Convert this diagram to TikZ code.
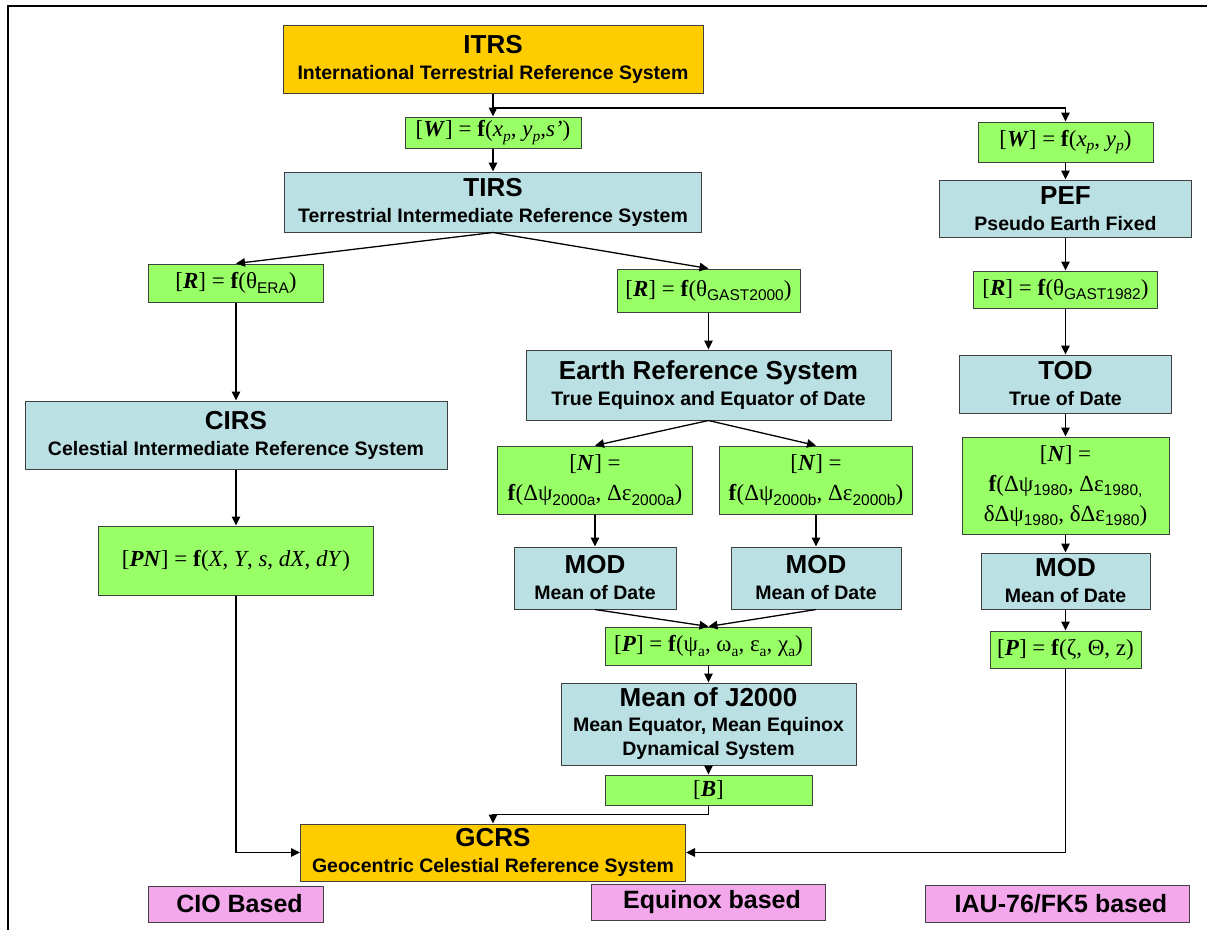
\documentclass[tikz,border=0pt]{standalone}
\usepackage{fontspec}
\setmainfont{Liberation Serif}
\setsansfont{Liberation Sans}
\usetikzlibrary{arrows.meta,calc}

\definecolor{itrsorange}{RGB}{255,204,0}
\definecolor{sysblue}{RGB}{187,224,227}
\definecolor{matgreen}{RGB}{153,255,102}
\definecolor{basepink}{RGB}{243,168,235}

\newcommand{\ttl}{\fontsize{26}{26}\selectfont}
\newcommand{\bv}[1]{\textbf{\textit{#1}}}
\newcommand{\fb}{\textbf{f}}
\newcommand{\ssub}[1]{\raisebox{-4.5pt}{\fontsize{15.5}{15.5}\selectfont\sffamily #1}}
\newcommand{\isub}[1]{\raisebox{-4.5pt}{\fontsize{15.5}{15.5}\selectfont\textit{#1}}}
\newcommand{\rsub}[1]{\raisebox{-4.5pt}{\fontsize{15.5}{15.5}\selectfont #1}}

\begin{document}
\begin{tikzpicture}[x=1pt,y=1pt]
    \tikzstyle{every node}=[rectangle,draw=black!75,line width=1,inner sep=0,align=center]
    \tikzstyle{sys}=[fill=sysblue,font=\sffamily\bfseries\fontsize{19.5}{26}\selectfont]
    \tikzstyle{itrs}=[sys,fill=itrsorange]
    \tikzstyle{mat}=[fill=matgreen,font=\fontsize{23}{30}\selectfont]
    \tikzstyle{tag}=[fill=basepink,font=\sffamily\bfseries\fontsize{25}{25}\selectfont]
    \tikzstyle{arr}=[draw=black,line width=1.3,-{Triangle[length=9pt,width=8.5pt]}]
    \useasboundingbox (0,0) rectangle (1207,-930);
    \draw[line width=2.2] (1207,-5.7) -- (7.8,-5.7) -- (7.8,-930);

    % top
    \node[itrs,minimum width=420,minimum height=68] (itrs) at (493,-59) {{\ttl ITRS}\\International Terrestrial Reference System};
    \node[mat,minimum width=176,minimum height=31] (w1) at (493,-132.5) {[\bv{W}] = \fb(\textit{x}\isub{p}, \textit{y}\isub{p},\textit{s’})};
    \node[sys,minimum width=417,minimum height=60] (tirs) at (493,-202) {{\ttl TIRS}\\Terrestrial Intermediate Reference System};

    % CIO branch
    \node[mat,minimum width=175,minimum height=38] (r1) at (236,-283) {[\bv{R}] = \fb(θ\ssub{ERA})};
    \node[sys,minimum width=422,minimum height=68] (cirs) at (236,-435) {{\ttl CIRS}\\Celestial Intermediate Reference System};
    \node[mat,minimum width=275,minimum height=69] (pn) at (236,-560.5) {[\bv{PN}] = \fb(\textit{X}, \textit{Y}, \textit{s}, \textit{dX}, \textit{dY})};

    % equinox branch
    \node[mat,minimum width=183,minimum height=43] (r2) at (708.5,-290.5) {[\bv{R}] = \fb(θ\ssub{GAST2000})};
    \node[sys,minimum width=365,minimum height=70] (ers) at (708.5,-385) {{\ttl Earth Reference System}\\True Equinox and Equator of Date};
    \node[mat,minimum width=195,minimum height=68] (n1) at (595,-480) {[\bv{N}] =\\\fb(Δψ\ssub{2000a}, Δε\ssub{2000a})};
    \node[mat,minimum width=193,minimum height=68] (n2) at (816,-480) {[\bv{N}] =\\\fb(Δψ\ssub{2000b}, Δε\ssub{2000b})};
    \node[sys,minimum width=162,minimum height=62] (mod1) at (595,-578) {{\ttl MOD}\\Mean of Date};
    \node[sys,minimum width=170,minimum height=62] (mod2) at (816,-578) {{\ttl MOD}\\Mean of Date};
    \node[mat,minimum width=206,minimum height=38] (p1) at (708.5,-646) {[\bv{P}] = \fb(ψ\rsub{a}, ω\rsub{a}, ε\rsub{a}, χ\rsub{a})};
    \node[sys,minimum width=295,minimum height=82,font=\sffamily\bfseries\fontsize{19.5}{24.5}\selectfont] (j2000) at (708.5,-724) {{\ttl Mean of J2000}\\Mean Equator, Mean Equinox\\Dynamical System};
    \node[mat,minimum width=207,minimum height=30] (b) at (708.5,-790) {[\bv{B}]};

    % IAU-76/FK5 branch
    \node[mat,minimum width=175,minimum height=40] (w2) at (1065.5,-142) {[\bv{W}] = \fb(\textit{x}\isub{p}, \textit{y}\isub{p})};
    \node[sys,minimum width=252,minimum height=57] (pef) at (1065.5,-208.5) {{\ttl PEF}\\Pseudo Earth Fixed};
    \node[mat,minimum width=184,minimum height=37] (r3) at (1065.5,-289.5) {[\bv{R}] = \fb(θ\ssub{GAST1982})};
    \node[sys,minimum width=212,minimum height=58] (tod) at (1065.5,-384) {{\ttl TOD}\\True of Date};
    \node[mat,minimum width=207,minimum height=97] (n3) at (1065.5,-485.5) {[\bv{N}] =\\\fb(Δψ\ssub{1980}, Δε\ssub{1980,}\\δΔψ\ssub{1980}, δΔε\ssub{1980})};
    \node[sys,minimum width=169,minimum height=56] (mod3) at (1065.5,-581) {{\ttl MOD}\\Mean of Date};
    \node[mat,minimum width=151,minimum height=37] (p2) at (1065.5,-649.5) {[\bv{P}] = \fb(ζ, Θ, z)};

    % bottom
    \node[itrs,minimum width=385,minimum height=57] (gcrs) at (493,-852.5) {{\ttl GCRS}\\Geocentric Celestial Reference System};
    \node[tag,minimum width=175,minimum height=36] (cio) at (235.5,-904) {\hspace{8pt}CIO Based};
    \node[tag,minimum width=234,minimum height=36] (equ) at (708,-902) {\hspace{8pt}Equinox based};
    \node[tag,minimum width=264,minimum height=37] (iau) at (1057,-903.5) {\hspace{8pt}IAU-76/FK5 based};

    % connectors
    \coordinate (fork) at (493,-108);
    \draw[arr] (itrs.south) -- (w1.north);
    \draw[arr] (fork) -| (w2.north);
    \draw[arr] (w1.south) -- (tirs.north);
    \draw[arr] (tirs.south) -- (r1.north);
    \draw[arr] (tirs.south) -- (r2.north);
    \draw[arr] (r1.south) -- (cirs.north);
    \draw[arr] (cirs.south) -- (pn.north);
    \draw[arr] (pn.south) |- (gcrs.west);
    \draw[arr] (r2.south) -- (ers.north);
    \draw[arr] (ers.south) -- (n1.north);
    \draw[arr] (ers.south) -- (n2.north);
    \draw[arr] (n1.south) -- (mod1.north);
    \draw[arr] (n2.south) -- (mod2.north);
    \draw[arr] (mod1.south) -- (p1.north);
    \draw[arr] (mod2.south) -- (p1.north);
    \draw[arr] (p1.south) -- (j2000.north);
    \draw[arr] (j2000.south) -- (b.north);
    \draw[arr] (b.south) -- ++(0,-9) -| (gcrs.north);
    \draw[arr] (w2.south) -- (pef.north);
    \draw[arr] (pef.south) -- (r3.north);
    \draw[arr] (r3.south) -- (tod.north);
    \draw[arr] (tod.south) -- (n3.north);
    \draw[arr] (n3.south) -- (mod3.north);
    \draw[arr] (mod3.south) -- (p2.north);
    \draw[arr] (p2.south) |- (gcrs.east);
\end{tikzpicture}
\end{document}
